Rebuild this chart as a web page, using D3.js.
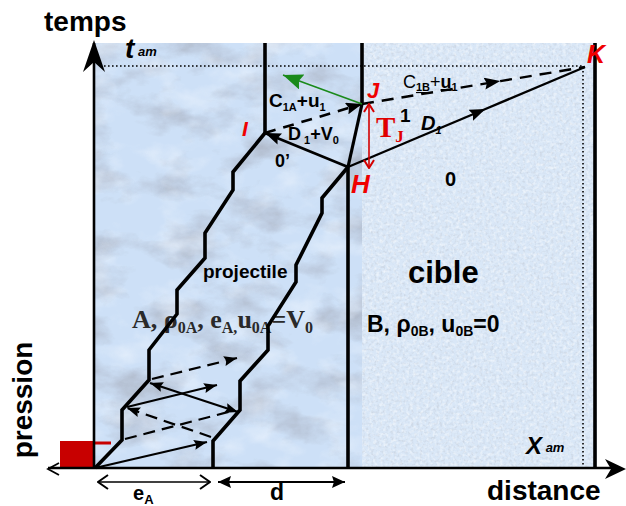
<!DOCTYPE html>
<html><head><meta charset="utf-8">
<script src="https://cdn.jsdelivr.net/npm/d3@7"></script>
<style>html,body{margin:0;padding:0;background:#fff;} svg{display:block;font-family:"Liberation Sans",Arial,sans-serif;}</style>
</head><body><svg id="c" width="626" height="506"></svg>
<script>
// ---------------- data (distance units, time units) ----------------
const axisTitles = ["temps", "distance", "pression"];
const tAm = 402, xAm = 488, tTop = 425, xWall = 500;
const leftStair  = [[0,0],[27,28],[27,58],[54,88],[54,118],[82,154],[82,178],[110,210],[110,235],[138,278],[138,296],[170,335]];
const rightStair = [[118,0],[118,27],[145,58],[145,87],[173,118],[173,142],[201,186],[201,203],[227,255],[227,270],[253,301]];
const ptNames = ["I","J","H","K"];
const ptX = [170, 267, 253, 490];
const ptT = [335, 364, 301, 401];
const wavesSolidArrow = [[[0,0],[112,26]], [[32,61],[122,83]]];
const wavesDoubleArrow = [[[55,85],[143,56]]];
const wavesDashed = [[[30,29],[137,57]]];
const wavesDashedArrow = [[[116,31],[32,60]], [[57,89],[142,110]]];
const greenTip = [188, 393];
const midArrowFrac = [0.58, 0.62];
const eA = [0, 116], dGap = [123, 250];
const texSplit = 267; // end of projectile-textured zone

// ---------------- scales ----------------
const x = d3.scaleLinear().domain([0, 500]).range([95, 595]);
const t = d3.scaleLinear().domain([0, 402]).range([468, 66]);
const line = d3.line().x(d => x(d[0])).y(d => t(d[1]));

const svg = d3.select("#c");
const defs = svg.append("defs");

// textures
const f1 = defs.append("filter").attr("id","marble").attr("x","0%").attr("y","0%").attr("width","100%").attr("height","100%");
f1.append("feTurbulence").attr("type","fractalNoise").attr("baseFrequency","0.018 0.03").attr("numOctaves",5).attr("seed",11).attr("result","n");
f1.append("feColorMatrix").attr("in","n").attr("type","matrix")
  .attr("values","0 0 0 0 0.42  0 0 0 0 0.47  0 0 0 0 0.57  2.3 0 0 0 -1.05");
const f1b = defs.append("filter").attr("id","marbleW").attr("x","0%").attr("y","0%").attr("width","100%").attr("height","100%");
f1b.append("feTurbulence").attr("type","fractalNoise").attr("baseFrequency","0.025 0.035").attr("numOctaves",4).attr("seed",3).attr("result","n");
f1b.append("feColorMatrix").attr("in","n").attr("type","matrix")
  .attr("values","0 0 0 0 0.93  0 0 0 0 0.96  0 0 0 0 1  0 2.4 0 0 -1.15");
const f2 = defs.append("filter").attr("id","speck").attr("x","0%").attr("y","0%").attr("width","100%").attr("height","100%");
f2.append("feTurbulence").attr("type","fractalNoise").attr("baseFrequency","0.35").attr("numOctaves",2).attr("seed",4).attr("result","n");
f2.append("feColorMatrix").attr("in","n").attr("type","matrix")
  .attr("values","0 0 0 0 0.55  0 0 0 0 0.6  0 0 0 0 0.68  2.2 0 0 0 -1.05");
const f3 = defs.append("filter").attr("id","speckW").attr("x","0%").attr("y","0%").attr("width","100%").attr("height","100%");
f3.append("feTurbulence").attr("type","fractalNoise").attr("baseFrequency","0.3").attr("numOctaves",2).attr("seed",9).attr("result","n");
f3.append("feColorMatrix").attr("in","n").attr("type","matrix")
  .attr("values","0 0 0 0 1  0 0 0 0 1  0 0 0 0 1  0 2.2 0 0 -1.0");

// markers
function marker(id, len, wid, color, reverse) {
  defs.append("marker").attr("id", id).attr("markerUnits","userSpaceOnUse")
    .attr("viewBox", `0 0 ${len} ${wid}`).attr("markerWidth", len).attr("markerHeight", wid)
    .attr("refX", len).attr("refY", wid/2).attr("orient", reverse ? "auto-start-reverse" : "auto")
    .append("path").attr("d", `M0,0 L${len},${wid/2} L0,${wid} L${len*0.15},${wid/2} Z`).attr("fill", color);
}
marker("aS", 13, 10, "#000", true);
marker("aM", 16, 12, "#000", true);
marker("aG", 20, 16, "#1a8a1a", false);
marker("aD", 13, 12, "#000", true);
defs.append("marker").attr("id","aR").attr("markerUnits","userSpaceOnUse").attr("viewBox","0 0 10 12")
  .attr("markerWidth",10).attr("markerHeight",12).attr("refX",9).attr("refY",6).attr("orient","auto-start-reverse")
  .append("path").attr("d","M1,1 L9,6 L1,11").attr("fill","none").attr("stroke","#d40000").attr("stroke-width",2);
defs.append("marker").attr("id","aO").attr("markerUnits","userSpaceOnUse").attr("viewBox","0 0 12 16")
  .attr("markerWidth",12).attr("markerHeight",16).attr("refX",11).attr("refY",8).attr("orient","auto-start-reverse")
  .append("path").attr("d","M1,1 L11,8 L1,15").attr("fill","none").attr("stroke","#000").attr("stroke-width",2);

// backgrounds
const bgL = [x(0), t(tTop), x(texSplit) - x(0), t(0) - t(tTop)];
const bgR = [x(texSplit), t(tTop), x(xWall) + 2 - x(texSplit), t(0) - t(tTop)];
const rect = (b, attrs) => { const r = svg.append("rect").attr("x",b[0]).attr("y",b[1]).attr("width",b[2]).attr("height",b[3]); Object.entries(attrs).forEach(([k,v]) => r.attr(k,v)); };
rect(bgL, {fill:"#cde0f7"});
rect(bgL, {filter:"url(#marble)", opacity:0.95});
rect(bgL, {filter:"url(#marbleW)", opacity:0.45});
rect(bgR, {fill:"#d9e7f7"});
rect(bgR, {filter:"url(#speck)", opacity:0.7});
rect(bgR, {filter:"url(#speckW)", opacity:0.6});

// dotted am lines
svg.append("path").attr("d", line([[5,tAm],[xAm,tAm],[xAm,0]])).attr("fill","none").attr("stroke","#000")
  .attr("stroke-width",1.6).attr("stroke-dasharray","1.6,2.4");

// pressure block
svg.append("rect").attr("x", x(0)-35).attr("y", t(27)).attr("width",35).attr("height", t(0)-t(27)).attr("fill","#c80000");
svg.append("line").attr("x1", x(0)).attr("x2", x(16)).attr("y1", t(25)).attr("y2", t(25)).attr("stroke","#c80000").attr("stroke-width",3);

// labels text (drawn under lines)
function rich(px, py, parts, opts) {
  const el = svg.append("text").attr("x", px).attr("y", py);
  Object.entries(opts || {}).forEach(([k,v]) => el.attr(k, v));
  let cur = 0;
  parts.forEach(p => {
    const off = p.sub || 0;
    const ts = el.append("tspan").attr("dy", off - cur).text(p.t);
    if (p.size) ts.attr("font-size", p.size);
    if (p.w) ts.attr("font-weight", p.w);
    if (p.u) ts.attr("text-decoration", "underline");
    cur = off;
  });
  return el;
}
rich(x(37), t(140), [{t:"A, ρ"},{t:"0A",size:16,sub:5},{t:", e"},{t:"A,",size:16,sub:5},{t:"u"},{t:"0A",size:16,sub:5},{t:"=V"},{t:"0",size:16,sub:5}],
  {"font-family":"'Liberation Serif','Times New Roman',serif","font-weight":"bold","font-size":26,"fill":"#2a2a2a"});
rich(x(108), t(190), [{t:"projectile"}], {"font-weight":"bold","font-size":19});
rich(x(313), t(185), [{t:"cible"}], {"font-weight":"bold","font-size":31});
rich(x(272), t(136), [{t:"B, ρ"},{t:"0B",size:14,sub:4},{t:", u"},{t:"0B",size:14,sub:4},{t:"=0"}], {"font-weight":"bold","font-size":23});

// verticals (interfaces)
const thick = 3.6;
[[ptX[0], ptT[0], tTop], [ptX[1], ptT[1], tTop], [ptX[2], 0, ptT[2]], [xWall, 0, tTop]].forEach(v => {
  svg.append("line").attr("x1", x(v[0])).attr("x2", x(v[0])).attr("y1", t(v[1])).attr("y2", t(v[2]))
    .attr("stroke","#000").attr("stroke-width", thick);
});
// staircases
[leftStair, rightStair].forEach(s => svg.append("path").attr("d", line(s)).attr("fill","none")
  .attr("stroke","#000").attr("stroke-width", thick).attr("stroke-linejoin","miter"));

// waves inside projectile
wavesSolidArrow.forEach(w => svg.append("path").attr("d", line(w)).attr("stroke","#000").attr("stroke-width",2.2).attr("marker-end","url(#aS)"));
wavesDoubleArrow.forEach(w => svg.append("path").attr("d", line(w)).attr("stroke","#000").attr("stroke-width",2.2).attr("marker-end","url(#aS)").attr("marker-start","url(#aS)"));
wavesDashed.forEach(w => svg.append("path").attr("d", line(w)).attr("stroke","#000").attr("stroke-width",2.2).attr("stroke-dasharray","12,7"));
wavesDashedArrow.forEach(w => svg.append("path").attr("d", line(w)).attr("stroke","#000").attr("stroke-width",2.2).attr("stroke-dasharray","12,7").attr("marker-end","url(#aS)"));

const I = [ptX[0], ptT[0]], J = [ptX[1], ptT[1]], H = [ptX[2], ptT[2]], K = [ptX[3], ptT[3]];
svg.append("path").attr("d", line([H, I])).attr("stroke","#000").attr("stroke-width",2.6).attr("marker-end","url(#aM)");
svg.append("path").attr("d", line([I, J])).attr("stroke","#000").attr("stroke-width",2.6).attr("stroke-dasharray","11,8").attr("marker-end","url(#aM)");
svg.append("path").attr("d", line([J, H])).attr("stroke","#000").attr("stroke-width",3.2);
const mid = (a, b, f) => [a[0] + (b[0]-a[0])*f, a[1] + (b[1]-a[1])*f];
svg.append("path").attr("d", line([H, mid(H,K,midArrowFrac[0]), K])).attr("fill","none").attr("stroke","#000").attr("stroke-width",2.4).attr("marker-mid","url(#aM)");
svg.append("path").attr("d", line([J, mid(J,K,midArrowFrac[1]), K])).attr("fill","none").attr("stroke","#000").attr("stroke-width",2.4).attr("stroke-dasharray","12,8").attr("marker-mid","url(#aM)");
svg.append("path").attr("d", line([J, greenTip])).attr("stroke","#1a8a1a").attr("stroke-width",1.6).attr("marker-end","url(#aG)");
svg.append("path").attr("d", line([[274,300],[274,364]])).attr("stroke","#d40000").attr("stroke-width",1.6)
  .attr("marker-start","url(#aR)").attr("marker-end","url(#aR)");

// axes
const ax = svg.append("g");
ax.append("line").attr("x1", x(0)-1).attr("x2", x(0)-1).attr("y1", t(0)).attr("y2", t(tTop)).attr("stroke","#000").attr("stroke-width",2.6);
{
  const tx = x(0)-1, ty = t(tTop) - 3;
  ax.append("path").attr("d", `M${tx},${ty} L${tx+11},${ty+32} L${tx},${ty+22} L${tx-11},${ty+32} Z`).attr("fill","#000");
}
ax.append("line").attr("x1", 48).attr("x2", 612).attr("y1", t(0)).attr("y2", t(0)).attr("stroke","#000").attr("stroke-width",2.6);
{
  const tx = 626, ty = t(0) + 1;
  ax.append("path").attr("d", `M${tx},${ty} L${tx-21},${ty-10} L${tx-15},${ty} L${tx-21},${ty+10} Z`).attr("fill","#000");
  ax.append("path").attr("d", `M${59},${ty-6} L48,${ty} L${59},${ty+6}`).attr("fill","none").attr("stroke","#000").attr("stroke-width",1.8);
}
svg.append("line").attr("x1", x(eA[0])+3).attr("x2", x(eA[1])-1).attr("y1", 482).attr("y2", 482).attr("stroke","#000").attr("stroke-width",1.6)
  .attr("marker-start","url(#aO)").attr("marker-end","url(#aO)");
svg.append("line").attr("x1", x(dGap[0])).attr("x2", x(dGap[1])).attr("y1", 482).attr("y2", 482).attr("stroke","#000").attr("stroke-width",2)
  .attr("marker-start","url(#aD)").attr("marker-end","url(#aD)");

// axis titles
svg.append("text").attr("x", 44).attr("y", 31).attr("font-weight","bold").attr("font-size",28).text(axisTitles[0]);
svg.append("text").attr("x", 487).attr("y", 500).attr("font-weight","bold").attr("font-size",28).text(axisTitles[1]);
svg.append("text").attr("transform","translate(32,400) rotate(-90)").attr("text-anchor","middle").attr("font-weight","bold").attr("font-size",28).text(axisTitles[2]);

// other labels
const bi = {"font-weight":"bold","font-style":"italic"};
rich(x(30), t(tAm)-8, [{t:"t",size:28},{t:" am",size:13,sub:-2}], bi);
rich(x(431), 454, [{t:"X",size:24},{t:" am",size:13,sub:-2}], bi);
rich(x(38), 500, [{t:"e",size:20},{t:"A",size:13,sub:4}], {"font-weight":"bold"});
rich(x(175), 500, [{t:"d"}], {"font-weight":"bold","font-size":23});
const red = {"font-weight":"bold","font-style":"italic","fill":"#f00000"};
rich(x(ptX[0])-23, t(ptT[0])+3, [{t:ptNames[0]}], Object.assign({"font-size":21}, red));
rich(x(ptX[1])+5, t(ptT[1])-6, [{t:ptNames[1]}], Object.assign({"font-size":22}, red));
rich(x(ptX[2])+3, t(ptT[2])+26, [{t:ptNames[2]}], Object.assign({"font-size":26}, red));
rich(x(ptX[3])+2, t(ptT[3])-4, [{t:ptNames[3]}], Object.assign({"font-size":25}, red));
rich(376, 137, [{t:"T",size:29},{t:"J",size:17,sub:5}], {"font-family":"'Liberation Serif','Times New Roman',serif","font-weight":"bold","fill":"#e00000"});
rich(400, 122, [{t:"1"}], {"font-weight":"bold","font-size":19});
rich(445, 186, [{t:"0"}], {"font-weight":"bold","font-size":20});
rich(275, 167, [{t:"0’"}], {"font-weight":"bold","font-size":18});
rich(421, 130, [{t:"D",size:20},{t:"1",size:11,sub:4}], bi);
rich(269, 107, [{t:"C",size:19},{t:"1A",size:11,sub:4},{t:"+u",size:19},{t:"1",size:11,sub:4}], {"font-weight":"bold"});
rich(288, 140, [{t:"D",size:18},{t:" 1",size:11,sub:4},{t:"+V",size:18},{t:"0",size:11,sub:4}], {"font-weight":"bold"});
rich(403, 88, [{t:"C",size:18,w:"normal"},{t:"1B",size:11,sub:3,w:"bold",u:true},{t:"+",size:18,w:"normal"},{t:"u",size:18,w:"bold",u:true},{t:"1",size:11,sub:3,w:"bold"}], {});
</script></body></html>
